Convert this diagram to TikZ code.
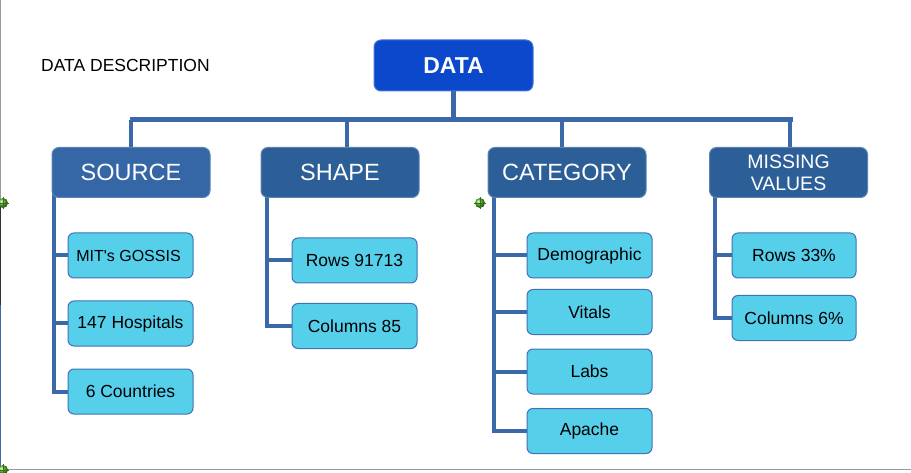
\documentclass[tikz,border=0pt]{standalone}
\usepackage{fontspec}
\setmainfont{Liberation Sans}
\usepackage{tikz}
\usetikzlibrary{backgrounds}
\definecolor{rootblue}{HTML}{0B48CC}
\definecolor{headblue}{HTML}{2C5F98}
\definecolor{srcblue}{HTML}{3566A6}
\definecolor{rimblue}{HTML}{5A82B4}
\definecolor{leafcyan}{HTML}{56CFEB}
\definecolor{leafrim}{HTML}{3F73B5}
\definecolor{linkblue}{HTML}{3B68A8}
\definecolor{handle}{HTML}{5DBB2A}

\begin{document}
\begin{tikzpicture}[x=1pt,y=-1pt]
\tikzstyle{every node}=[inner sep=0pt,text centered]
\tikzstyle{root}=[rounded corners=7pt,fill=rootblue,draw=rootblue!75!white,line width=1pt,minimum width=159pt,minimum height=51pt,text=white,font=\fontsize{23}{26}\selectfont\bfseries]
\tikzstyle{head}=[rounded corners=7pt,fill=headblue,draw=rimblue,line width=1pt,minimum width=158pt,minimum height=50pt,text=white,font=\fontsize{23.5}{26}\selectfont]
\tikzstyle{leaf}=[rounded corners=6pt,fill=leafcyan,draw=leafrim,line width=1pt,minimum width=125pt,minimum height=45pt,font=\fontsize{17.5}{21}\selectfont]
\tikzstyle{link}=[draw=linkblue,line width=4pt]
\useasboundingbox (0,0) rectangle (911,473);

% window frame
\draw[gray!80,line width=1pt] (0.5,0)--(0.5,203);
\draw[black!80,line width=1pt] (0.5,203)--(0.5,305);
\draw[linkblue,line width=1pt] (0.5,305)--(0.5,469);
\draw[gray!80,line width=1pt] (0,469.5)--(911,469.5);

\node[anchor=west,font=\fontsize{17.5}{21}\selectfont] (title) at (41,65) {DATA DESCRIPTION};

\node[root] (data) at (453.5,65.5) {DATA};
\node[head,fill=srcblue] (source) at (131,172.5) {SOURCE};
\node[head] (shape) at (340,172.5) {SHAPE};
\node[head] (category) at (567,172.5) {CATEGORY};
\node[head,align=center,font=\fontsize{19.5}{22}\selectfont] (missing) at (788.5,172.5) {MISSING\\VALUES};

\node[leaf] (mit) at (130.5,255.5) {\fontsize{16}{19}\selectfont\hspace*{-4pt}MIT\textquotesingle s GOSSIS};
\node[leaf] (hosp) at (130.5,323.5) {147 Hospitals};
\node[leaf] (ctry) at (130.5,391.5) {6 Countries};

\node[leaf] (rows) at (354.5,260.5) {Rows 91713};
\node[leaf] (cols) at (354.5,326) {Columns 85};

\node[leaf] (demo) at (589.5,255.5) {Demographic};
\node[leaf] (vital) at (589.5,312) {Vitals};
\node[leaf] (labs) at (589.5,371.5) {Labs};
\node[leaf] (apache) at (589.5,431) {Apache};

\node[leaf,minimum width=124pt] (mrows) at (794,255.5) {Rows 33\%};
\node[leaf,minimum width=124pt] (mcols) at (794,318) {Columns 6\%};

\begin{scope}[on background layer]
\coordinate (bar) at (0,120);
\draw[link,line width=5pt] (130,120) -- (793,120);
\draw[link,line width=5pt] (data.south) -- (data.south |- bar);
\draw[link] (131,120) -- (source.north -| 131,0);
\draw[link] (347,120) -- (shape.north -| 347,0);
\draw[link] (562,120) -- (category.north -| 562,0);
\draw[link] (790,120) -- (missing.north -| 790,0);
% spines
\coordinate (srcspine) at (54,190);
\coordinate (shpspine) at (267,190);
\coordinate (catspine) at (494,190);
\coordinate (misspine) at (715,190);
\foreach \n in {mit,hosp,ctry} \draw[link] (srcspine) |- (\n.west);
\foreach \n in {rows,cols} \draw[link] (shpspine) |- (\n.west);
\foreach \n in {demo,vital,labs,apache} \draw[link] (catspine) |- (\n.west);
\foreach \n in {mrows,mcols} \draw[link] (misspine) |- (\n.west);
\end{scope}

% selection handles
\foreach \p in {(3,203),(480,203),(3,470)}{
  \shade[ball color=handle] \p circle (5pt);
  \draw[handle!60!black,line width=0.6pt] \p ++(-6,0) -- ++(12,0) \p ++(0,-6) -- ++(0,12);
}
\end{tikzpicture}
\end{document}
